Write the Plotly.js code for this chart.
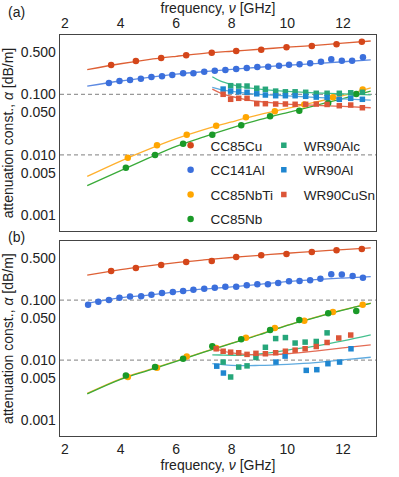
<!DOCTYPE html>
<html>
<head>
<meta charset="utf-8">
<script src="https://cdn.plot.ly/plotly-3.0.1.min.js"></script>
<style>
    html, body { margin: 0; padding: 0; background: #fff; }
    #chart { width: 399px; height: 477px; }
</style>
</head>
<body>
<div id="chart"></div>
<script>
// ---- measured data (GHz, dB/m) ----
// coaxial cavities, circles
const freqCu = [3.66, 4.55, 5.46, 6.36, 7.28, 8.16, 9.06, 9.97, 10.88, 11.77, 12.68];
const cuA = [0.305, 0.355, 0.398, 0.441, 0.488, 0.520, 0.546, 0.598, 0.629, 0.670, 0.739];
const cuB = [0.305, 0.342, 0.383, 0.429, 0.446, 0.520, 0.555, 0.582, 0.628, 0.670, 0.704];

const freqAlA = [3.58, 3.96, 4.34, 4.73, 5.11, 5.49, 5.86, 6.25, 6.62, 7.01, 7.39, 7.77, 8.16,
    8.54, 8.92, 9.31, 9.70, 10.06, 10.44, 10.82, 11.21, 11.58, 11.96, 12.33, 12.72];
const alA = [0.154, 0.166, 0.172, 0.181, 0.193, 0.199, 0.209, 0.222, 0.222, 0.236, 0.246, 0.252, 0.262,
    0.272, 0.283, 0.286, 0.297, 0.308, 0.313, 0.325, 0.346, 0.379, 0.359, 0.359, 0.409];
const freqAlB = [2.83, 3.20, 3.58, 3.96, 4.34, 4.74, 5.11, 5.49, 5.88, 6.25, 6.62, 7.01, 7.39, 7.77,
    8.16, 8.54, 8.92, 9.30, 9.67, 10.06, 10.44, 10.82, 11.19, 11.58, 11.96, 12.35, 12.72];
const alB = [0.0836, 0.0937, 0.100, 0.109, 0.115, 0.116, 0.122, 0.131, 0.136, 0.141, 0.148, 0.154, 0.160, 0.166,
    0.166, 0.177, 0.184, 0.184, 0.193, 0.206, 0.208, 0.214, 0.225, 0.269, 0.265, 0.252, 0.236];

const freqNbTi = [4.26, 5.31, 6.38, 7.44, 8.51, 9.55, 10.61, 11.64, 12.71];
const nbtiA = [0.00895, 0.01435, 0.0215, 0.0303, 0.0417, 0.0524, 0.068, 0.0892, 0.120];
const nbtiB = [0.00526, 0.00751, 0.01155, 0.0160, 0.0236, 0.0344, 0.0455, 0.0634, 0.0836];

const freqNb = [4.19, 5.24, 6.25, 7.30, 8.34, 9.38, 10.43, 11.47, 12.48];
const nbA = [0.00612, 0.00993, 0.0153, 0.0215, 0.0307, 0.0433, 0.0536, 0.072, 0.101];
const nbB = [0.00555, 0.00769, 0.0106, 0.0171, 0.0223, 0.0319, 0.0467, 0.0601, 0.0658];

// rectangular waveguides, squares
const freqAlcA = [7.96, 8.25, 8.55, 8.90, 9.21, 9.58, 9.93, 10.28, 10.66, 11.04, 11.43, 11.87, 12.28, 12.70];
const alcA = [0.139, 0.137, 0.137, 0.126, 0.121, 0.113, 0.110, 0.110, 0.108, 0.104, 0.104, 0.104, 0.106, 0.108];
const freqWrA = [7.69, 7.96, 8.25, 8.55, 8.90, 9.21, 9.58, 9.93, 10.28, 10.66, 11.04, 11.43, 11.87, 12.28, 12.70];
const wrAlA = [0.122, 0.113, 0.110, 0.108, 0.102, 0.0974, 0.0948, 0.0948, 0.0948, 0.0927, 0.090, 0.0886, 0.0827, 0.0859, 0.0827];
const cusnA = [0.100, 0.0827, 0.0859, 0.0859, 0.070, 0.070, 0.0692, 0.0692, 0.0684, 0.0684, 0.069, 0.068, 0.0648, 0.0665, 0.060];

const freqAlcB = [7.69, 7.96, 8.25, 8.55, 8.87, 9.21, 9.58, 9.93, 10.28, 10.64, 11.04, 11.43];
const alcB = [0.00931, 0.00526, 0.00769, 0.00805, 0.0111, 0.0164, 0.0229, 0.0238, 0.0193, 0.0200, 0.0205, 0.0285];
const freqWrAlB = [7.46, 7.70, 9.59, 9.92, 10.68, 11.06, 11.46, 11.88, 12.29];
const wrAlB = [0.00796, 0.00612, 0.00931, 0.0117, 0.00678, 0.00696, 0.00875, 0.00931, 0.0155];
const freqCusnB = [7.44, 7.69, 7.96, 8.25, 8.55, 8.87, 9.21, 9.58, 9.93, 10.28, 10.64, 11.04, 11.43, 11.85, 12.28];
const cusnB = [0.0155, 0.0141, 0.0136, 0.0133, 0.0125, 0.0130, 0.0128, 0.0133, 0.0141, 0.0147, 0.0155, 0.0169, 0.0197, 0.0234, 0.0262];

// ---- model curves ----
const fitFreqCC = [2.8, 4, 5, 6, 7, 8, 9, 10, 11, 12, 13];
const cuFitA = [0.255, 0.32, 0.375, 0.425, 0.475, 0.515, 0.555, 0.60, 0.645, 0.70, 0.76];
const cuFitB = [0.259, 0.32, 0.37, 0.42, 0.465, 0.51, 0.555, 0.60, 0.645, 0.69, 0.74];
const alFitA = [0.137, 0.166, 0.19, 0.215, 0.237, 0.258, 0.28, 0.302, 0.322, 0.345, 0.372];
const alFitB = [0.088, 0.110, 0.121, 0.137, 0.153, 0.166, 0.183, 0.202, 0.218, 0.232, 0.245];
const nbtiFitA = [0.0044, 0.0079, 0.0123, 0.0185, 0.0262, 0.035, 0.046, 0.0585, 0.074, 0.095, 0.128];
const nbFitA = [0.0031, 0.0055, 0.0088, 0.0138, 0.0198, 0.0278, 0.038, 0.050, 0.065, 0.085, 0.113];
const nbtiFitB = [0.0028, 0.0049, 0.0069, 0.0097, 0.0137, 0.0192, 0.0268, 0.0383, 0.0515, 0.0685, 0.089];
const nbFitB = [0.00275, 0.0048, 0.0068, 0.0096, 0.0136, 0.019, 0.0265, 0.038, 0.051, 0.068, 0.088];

const fitFreqWR = [7.3, 7.6, 8, 8.5, 9, 9.5, 10, 11, 12, 13];
const alcFitA = [0.195, 0.165, 0.145, 0.130, 0.122, 0.116, 0.112, 0.106, 0.102, 0.098];
const wrAlFitA = [0.130, 0.120, 0.112, 0.105, 0.100, 0.097, 0.094, 0.089, 0.084, 0.080];
const cusnFitA = [0.122, 0.105, 0.092, 0.082, 0.076, 0.072, 0.069, 0.066, 0.063, 0.060];
const alcFitB = [0.0123, 0.0122, 0.0121, 0.0122, 0.0127, 0.0135, 0.0147, 0.0172, 0.021, 0.0264];
const wrAlFitB = [0.0088, 0.0085, 0.0082, 0.0081, 0.0082, 0.0083, 0.0085, 0.0091, 0.0101, 0.0112];
const cusnFitB = [0.0165, 0.0145, 0.0132, 0.0125, 0.0123, 0.0124, 0.0128, 0.0142, 0.016, 0.018];

// colours: [marker, line]
const colCu = ['#d4461a', '#de6035'];
const colAl = ['#3b6fdc', '#5d8ae2'];
const colNbTi = ['#ffa600', '#ffb02e'];
const colNb = ['#1a9a28', '#3aab3a'];
const colAlc = ['#26a67a', '#45c08f'];
const colWrAl = ['#1f86d0', '#5eaadf'];
const colCuSn = ['#dc5638', '#e36c55'];

const FONT = 'Liberation Sans, Arial, sans-serif';

function fitLine(x, y, col, ax) {
    return {
        x: x, y: y, mode: 'lines', type: 'scatter',
        line: {color: col, width: 1.3, shape: 'spline', smoothing: 1},
        xaxis: ax[0], yaxis: ax[1], showlegend: false, hoverinfo: 'skip'
    };
}

function points(x, y, col, sym, name, ax, legend) {
    return {
        x: x, y: y, mode: 'markers', type: 'scatter', name: name,
        marker: {color: col, size: sym === 'square' ? 5.5 : 6.5, symbol: sym},
        xaxis: ax[0], yaxis: ax[1],
        showlegend: !!legend, legend: legend || 'legend', legendgroup: name
    };
}

const axA = ['x', 'y'];
const axB = ['x2', 'y2'];

var data = [
    // panel (a) curves
    fitLine(fitFreqCC, cuFitA, colCu[1], axA),
    fitLine(fitFreqCC, alFitA, colAl[1], axA),
    fitLine(fitFreqCC, nbtiFitA, colNbTi[1], axA),
    fitLine(fitFreqCC, nbFitA, colNb[1], axA),
    fitLine(fitFreqWR, alcFitA, colAlc[1], axA),
    fitLine(fitFreqWR, wrAlFitA, colWrAl[1], axA),
    fitLine(fitFreqWR, cusnFitA, colCuSn[1], axA),
    // panel (b) curves
    fitLine(fitFreqCC, cuFitB, colCu[1], axB),
    fitLine(fitFreqCC, alFitB, colAl[1], axB),
    fitLine(fitFreqCC, nbtiFitB, colNbTi[1], axB),
    fitLine(fitFreqCC, nbFitB, colNb[1], axB),
    fitLine(fitFreqWR, alcFitB, colAlc[1], axB),
    fitLine(fitFreqWR, wrAlFitB, colWrAl[1], axB),
    fitLine(fitFreqWR, cusnFitB, colCuSn[1], axB),
    // panel (a) points, these carry the legend
    points(freqCu, cuA, colCu[0], 'circle', 'CC85Cu', axA, 'legend'),
    points(freqAlA, alA, colAl[0], 'circle', 'CC141Al', axA, 'legend'),
    points(freqNbTi, nbtiA, colNbTi[0], 'circle', 'CC85NbTi', axA, 'legend'),
    points(freqNb, nbA, colNb[0], 'circle', 'CC85Nb', axA, 'legend'),
    points(freqAlcA, alcA, colAlc[0], 'square', 'WR90Alc', axA, 'legend2'),
    points(freqWrA, wrAlA, colWrAl[0], 'square', 'WR90Al', axA, 'legend2'),
    points(freqWrA, cusnA, colCuSn[0], 'square', 'WR90CuSn', axA, 'legend2'),
    // panel (b) points
    points(freqCu, cuB, colCu[0], 'circle', 'CC85Cu', axB),
    points(freqAlB, alB, colAl[0], 'circle', 'CC141Al', axB),
    points(freqNbTi, nbtiB, colNbTi[0], 'circle', 'CC85NbTi', axB),
    points(freqNb, nbB, colNb[0], 'circle', 'CC85Nb', axB),
    points(freqAlcB, alcB, colAlc[0], 'square', 'WR90Alc', axB),
    points(freqWrAlB, wrAlB, colWrAl[0], 'square', 'WR90Al', axB),
    points(freqCusnB, cusnB, colCuSn[0], 'square', 'WR90CuSn', axB)
];

const yTickVals = [0.001, 0.005, 0.01, 0.05, 0.1, 0.5];
const yTickText = ['0.001', '0.005', '0.010', '0.050', '0.100', '0.500'];
const yTitle = 'attenuation const., <i>α</i> [dB/m]';
const xTitle = 'frequency, <i>ν</i> [GHz]';

function xAxis(side, anchor, withTitle) {
    return {
        anchor: anchor, side: side, range: [1.82, 13.19], tick0: 2, dtick: 2,
        showgrid: false, zeroline: false, showline: true, mirror: true,
        linecolor: '#444', linewidth: 1.3, ticks: '',
        tickfont: {size: 14, color: '#222'},
        title: withTitle ? {text: xTitle, font: {size: 14, color: '#222'}, standoff: 4} : {text: ''}
    };
}

function yAxis(domain, anchor) {
    return {
        type: 'log', domain: domain, anchor: anchor, range: [-3.26, -0.02],
        tickvals: yTickVals, ticktext: yTickText,
        showgrid: false, zeroline: false, showline: true, mirror: true,
        linecolor: '#444', linewidth: 1.3, ticks: '',
        tickfont: {size: 14, color: '#222'},
        title: {text: yTitle, font: {size: 14, color: '#222'}, standoff: 6}
    };
}

// dashed guides at 0.1 and 0.01 in both panels
var shapes = [];
for (let yr of ['y', 'y2']) {
    for (let v of [0.1, 0.01]) {
        shapes.push({
            type: 'line', xref: yr === 'y' ? 'x domain' : 'x2 domain', x0: 0, x1: 1,
            yref: yr, y0: v, y1: v,
            line: {color: '#999', width: 1.2, dash: '4px,3px'}, layer: 'below'
        });
    }
}

const legendStyle = {
    bgcolor: 'rgba(0,0,0,0)', borderwidth: 0, tracegroupgap: 4,
    font: {size: 13.5, color: '#222', family: FONT},
    xanchor: 'left', yanchor: 'top', y: 0.763
};

var layout = {
    width: 399, height: 477,
    margin: {l: 60, r: 23, t: 35, b: 41},
    paper_bgcolor: '#fff', plot_bgcolor: '#fff',
    font: {family: FONT, size: 14, color: '#222'},
    xaxis: xAxis('top', 'y', true),
    yaxis: yAxis([0.511, 1], 'x'),
    xaxis2: xAxis('bottom', 'y2', true),
    yaxis2: yAxis([0, 0.486], 'x2'),
    showlegend: true,
    legend: Object.assign({x: 0.35}, legendStyle),
    legend2: Object.assign({x: 0.645}, legendStyle),
    shapes: shapes,
    annotations: [
        {text: '(a)', xref: 'paper', yref: 'paper', x: -0.17, y: 1.057,
            xanchor: 'left', yanchor: 'middle', showarrow: false, font: {size: 14}},
        {text: '(b)', xref: 'paper', yref: 'paper', x: -0.17, y: 0.496,
            xanchor: 'left', yanchor: 'middle', showarrow: false, font: {size: 14}}
    ]
};

Plotly.newPlot('chart', data, layout, {displayModeBar: false, staticPlot: true});
</script>
</body>
</html>
